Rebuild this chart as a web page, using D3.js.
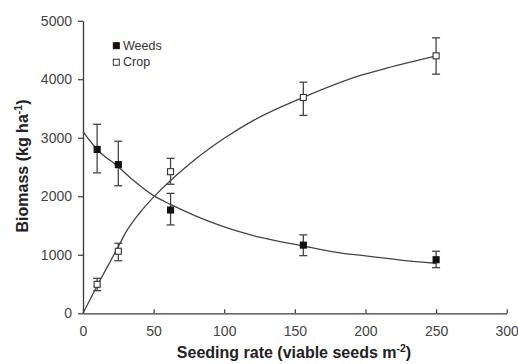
<!DOCTYPE html>
<html>
<head>
<meta charset="utf-8">
<script src="https://cdn.jsdelivr.net/npm/d3@7"></script>
<style>
  html, body { margin: 0; padding: 0; background: #fff; }
  svg { display: block; }
  text { font-family: "Liberation Sans", Arial, sans-serif; }
</style>
</head>
<body>
<svg id="chart" width="518" height="364"></svg>
<script>
// ---- data ----
const seedingRates = [10, 25, 62, 156, 250];
const weedMeans = [2800, 2540, 1765, 1165, 915];
const weedHigh  = [3230, 2940, 2050, 1340, 1060];
const weedLow   = [2400, 2180, 1510,  985,  780];
const cropMeans = [495, 1060, 2420, 3688, 4400];
const cropHigh  = [598, 1196, 2648, 3950, 4707];
const cropLow   = [386,  898, 2205, 3382, 4087];

const weedFitX = [0, 10, 25, 35, 50, 62, 80, 100, 125, 156, 175, 200, 225, 250];
const weedFitY = [3105, 2800, 2505, 2285, 2010, 1860, 1660, 1475, 1300, 1150, 1060, 980, 910, 855];
const cropFitX = [0, 10, 25, 30, 40, 51, 62, 71, 80, 100, 121, 156, 196, 215, 250];
const cropFitY = [0, 470, 1140, 1370, 1710, 2010, 2270, 2460, 2640, 2990, 3300, 3690, 4060, 4190, 4400];

const xTicks = [0, 50, 100, 150, 200, 250, 300];
const yTicks = [0, 1000, 2000, 3000, 4000, 5000];
const legendLabels = ["Weeds", "Crop"];

// ---- layout ----
const svg = d3.select("#chart");
const x = d3.scaleLinear().domain([0, 300]).range([83, 506.7]);
const y = d3.scaleLinear().domain([0, 5000]).range([313.3, 20.7]);
const axisColor = "#3a3a3a";

// axes
const gx = svg.append("g").attr("transform", `translate(0,${y(0)})`)
  .call(d3.axisBottom(x).tickValues(xTicks).tickFormat(d3.format("d")).tickSize(-4).tickSizeOuter(0).tickPadding(12.5));
const gy = svg.append("g").attr("transform", `translate(${x(0)},0)`)
  .call(d3.axisLeft(y).tickValues(yTicks).tickFormat(d3.format("d")).tickSize(5).tickSizeOuter(0).tickPadding(6));
[gx, gy].forEach(g => {
  g.select(".domain").attr("stroke", axisColor).attr("stroke-width", 1.3);
  g.selectAll(".tick line").attr("stroke", axisColor).attr("stroke-width", 1.2);
  g.selectAll(".tick text").attr("fill", "#444").attr("font-size", 14)
    .attr("font-family", "Liberation Sans, Arial, sans-serif");
});

// axis titles
const xt = svg.append("text").attr("x", 294).attr("y", 358).attr("text-anchor", "middle")
  .attr("font-weight", "bold").attr("font-size", 16).attr("fill", "#222");
xt.append("tspan").text("Seeding rate (viable seeds m");
xt.append("tspan").text("-2").attr("font-size", 10.5).attr("dy", -6.5);
xt.append("tspan").text(")").attr("dy", 6.5);

const yt = svg.append("text").attr("transform", "translate(28,166) rotate(-90)")
  .attr("text-anchor", "middle").attr("font-weight", "bold").attr("font-size", 16).attr("fill", "#222");
yt.append("tspan").text("Biomass (kg ha");
yt.append("tspan").text("-1").attr("font-size", 10.5).attr("dy", -6.5);
yt.append("tspan").text(")").attr("dy", 6.5);

// fitted curves
const line = d3.line().x(d => x(d[0])).y(d => y(d[1])).curve(d3.curveMonotoneX);
svg.append("path").datum(weedFitX.map((v, i) => [v, weedFitY[i]]))
  .attr("d", line).attr("fill", "none").attr("stroke", "#444").attr("stroke-width", 1.3);
svg.append("path").datum(cropFitX.map((v, i) => [v, cropFitY[i]]))
  .attr("d", line).attr("fill", "none").attr("stroke", "#444").attr("stroke-width", 1.3);

// error bars + markers
function drawSeries(means, hi, lo, filled) {
  const g = svg.append("g");
  const capW = 4;
  seedingRates.forEach((r, i) => {
    const cx = x(r);
    g.append("line").attr("x1", cx).attr("x2", cx).attr("y1", y(hi[i])).attr("y2", y(lo[i]))
      .attr("stroke", "#444").attr("stroke-width", 1.3);
    [hi[i], lo[i]].forEach(v => {
      g.append("line").attr("x1", cx - capW).attr("x2", cx + capW).attr("y1", y(v)).attr("y2", y(v))
        .attr("stroke", "#444").attr("stroke-width", 1.3);
    });
    const s = 6;
    g.append("rect").attr("x", cx - s / 2).attr("y", y(means[i]) - s / 2).attr("width", s).attr("height", s)
      .attr("fill", filled ? "#111" : "#fff").attr("stroke", filled ? "#111" : "#333").attr("stroke-width", 1.1);
  });
}
drawSeries(weedMeans, weedHigh, weedLow, true);
drawSeries(cropMeans, cropHigh, cropLow, false);

// legend
const leg = svg.append("g");
legendLabels.forEach((lab, i) => {
  const ly = 45.7 + i * 16.5;
  leg.append("rect").attr("x", 113.3).attr("y", ly - 3).attr("width", 6).attr("height", 6)
    .attr("fill", i === 0 ? "#111" : "#fff").attr("stroke", i === 0 ? "#111" : "#333").attr("stroke-width", 1);
  leg.append("text").attr("x", 123).attr("y", ly + 4.2).attr("font-size", 12.5).attr("fill", "#333").text(lab);
});
</script>
</body>
</html>
